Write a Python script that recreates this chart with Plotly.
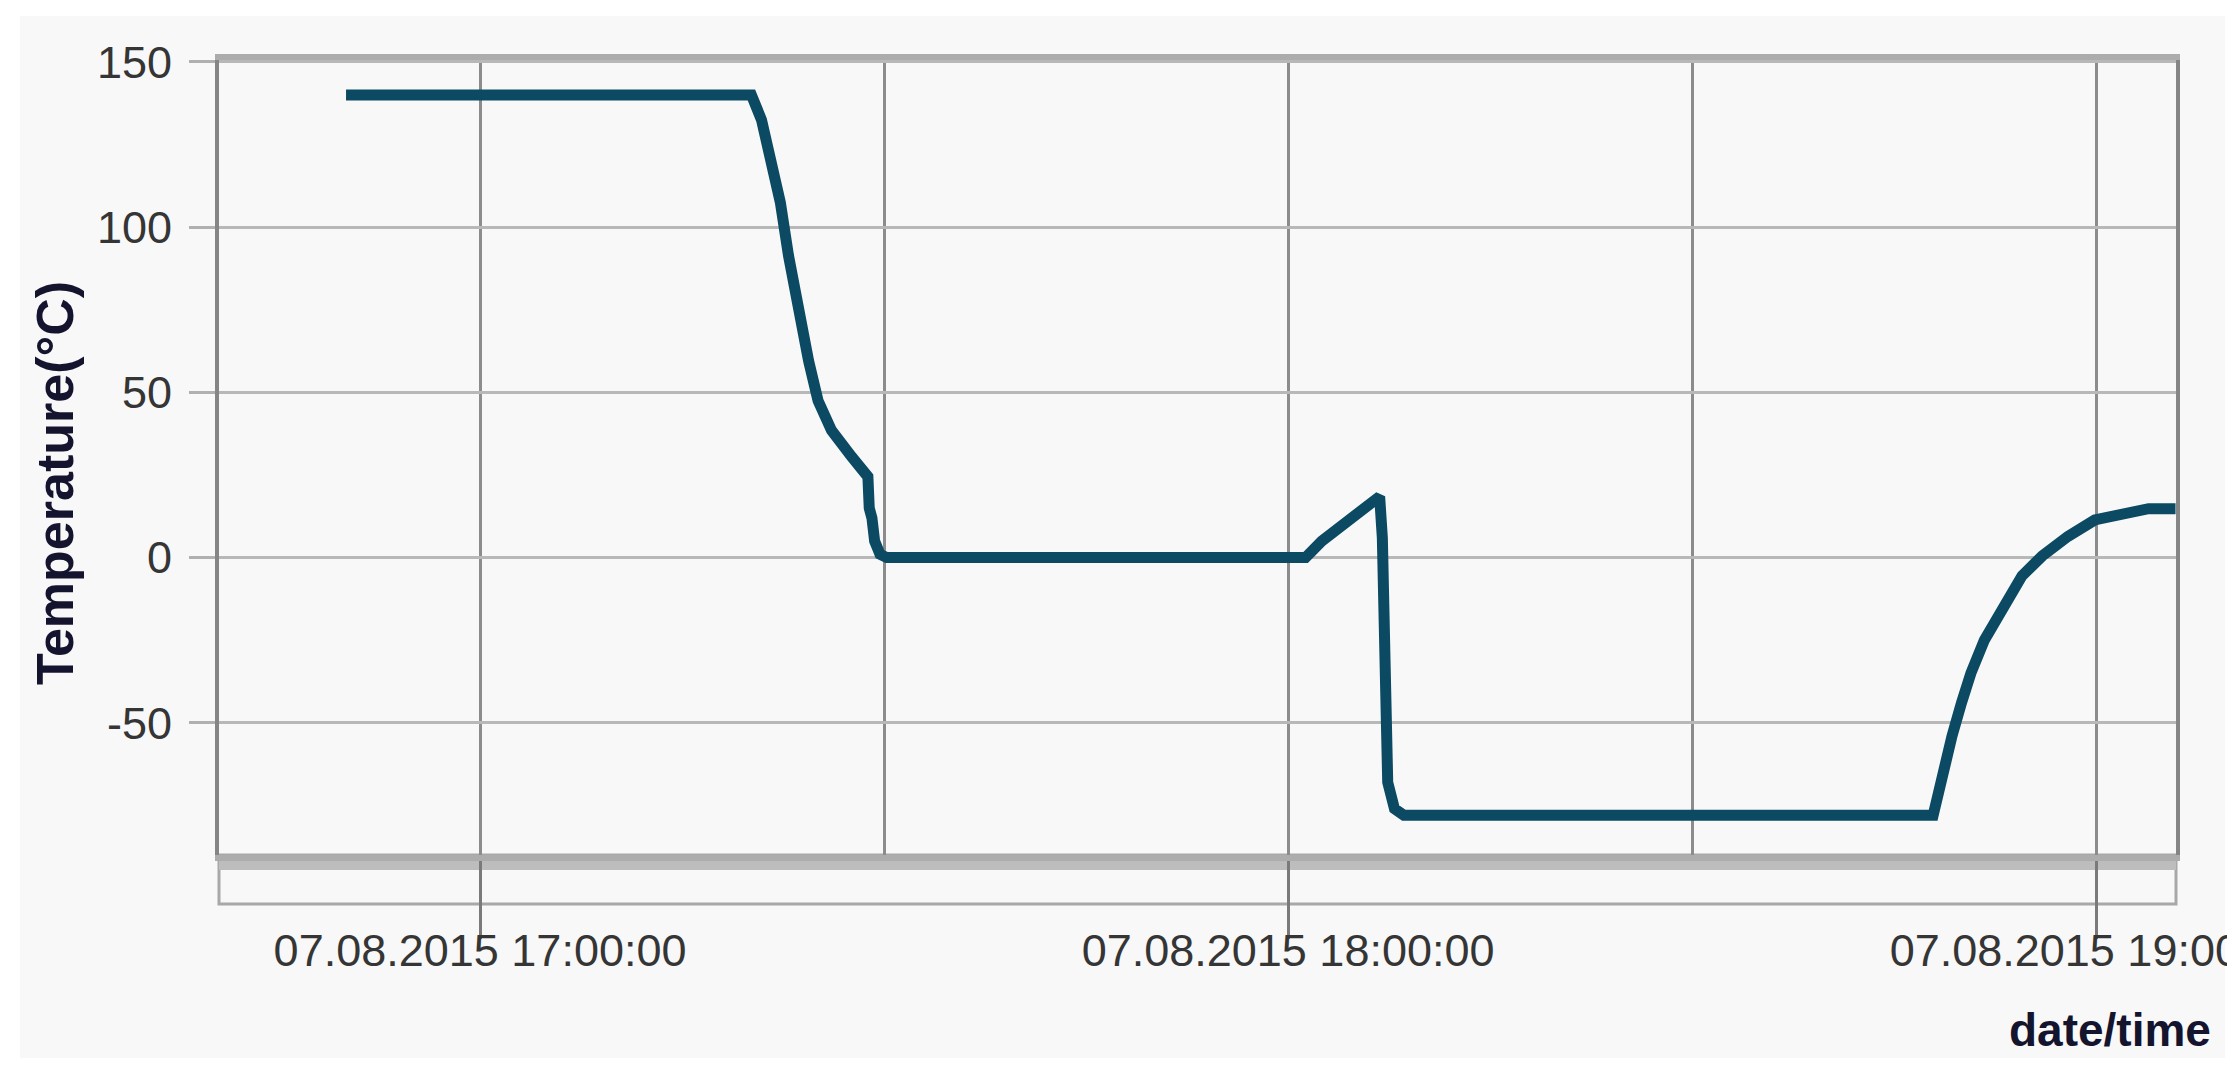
import plotly.graph_objects as go
import pandas as pd

# temperature log
times = [
    "2015-08-07 16:50:03", "2015-08-07 17:20:09", "2015-08-07 17:20:54", "2015-08-07 17:21:36",
    "2015-08-07 17:22:18", "2015-08-07 17:22:54", "2015-08-07 17:23:36", "2015-08-07 17:24:24",
    "2015-08-07 17:25:06", "2015-08-07 17:26:06", "2015-08-07 17:27:36", "2015-08-07 17:28:36",
    "2015-08-07 17:28:48", "2015-08-07 17:28:54", "2015-08-07 17:29:06", "2015-08-07 17:29:18",
    "2015-08-07 17:29:42", "2015-08-07 17:30:12",
    "2015-08-07 18:01:18", "2015-08-07 18:02:30", "2015-08-07 18:04:00", "2015-08-07 18:05:30",
    "2015-08-07 18:06:48", "2015-08-07 18:07:00", "2015-08-07 18:07:12", "2015-08-07 18:07:24",
    "2015-08-07 18:07:54", "2015-08-07 18:08:36",
    "2015-08-07 18:47:54", "2015-08-07 18:48:30", "2015-08-07 18:49:18", "2015-08-07 18:50:00",
    "2015-08-07 18:50:42", "2015-08-07 18:51:42", "2015-08-07 18:53:00", "2015-08-07 18:54:30",
    "2015-08-07 18:56:00", "2015-08-07 18:57:54", "2015-08-07 18:59:54", "2015-08-07 19:02:06",
    "2015-08-07 19:03:54", "2015-08-07 19:05:54",
]
temps = [
    140, 140, 132.5, 120.5,
    107.5, 91.5, 75.5, 59.5,
    47.5, 38.5, 30.5, 25.5,
    24.5, 15, 12, 5,
    1, 0,
    0, 5, 10, 15,
    18.5, 6, -55, -68,
    -76, -78,
    -78, -66, -54, -44,
    -35, -25, -16, -5.5,
    0.5, 6.4, 11.4, 13.4,
    14.8, 14.8,
]

hour_ticks = ["2015-08-07 17:00:00", "2015-08-07 18:00:00", "2015-08-07 19:00:00"]
hour_labels = ["07.08.2015 17:00:00", "07.08.2015 18:00:00", "07.08.2015 19:00:00"]
half_hour_grid = ["2015-08-07 17:30:00", "2015-08-07 18:30:00"]
x_range = ["2015-08-07 16:40:37", "2015-08-07 19:05:56"]

y_ticks = [-50, 0, 50, 100, 150]
y_labels = ["-50", "0", "50", "100", "150"]
y_range = [-90, 150.6]

W, H = 2235, 1074
L, R, T, B = 211, 67, 52, 227
plot_w = W - L - R
plot_h = H - T - B

def px_x(px):
    return (px - L) / plot_w

def px_y(py):
    return (H - B - py) / plot_h

bg = "#f8f8f8"

fig = go.Figure()
fig.add_trace(go.Scatter(
    x=pd.to_datetime(times), y=temps, mode="lines",
    line=dict(color="#0b4a62", width=11),
    showlegend=False,
))

tick_font = dict(family="Liberation Sans, Arial, sans-serif", size=45, color="#353535")

fig.update_xaxes(
    range=x_range, type="date", automargin=False,
    tickmode="array", tickvals=hour_ticks, ticktext=hour_labels,
    ticks="outside", ticklen=78, tickwidth=2.5, tickcolor="#7a7a7a",
    tickfont=tick_font, ticklabeloverflow="allow", ticklabelstandoff=-27,
    showgrid=True, gridcolor="#8c8c8c", gridwidth=2.5,
    minor=dict(tickmode="array", tickvals=half_hour_grid, showgrid=True,
               gridcolor="#8c8c8c", gridwidth=2.5, ticks=""),
    showline=True, mirror=True, linecolor="#acacac", linewidth=6,
    zeroline=False,
)
fig.update_yaxes(
    range=y_range, automargin=False,
    tickmode="array", tickvals=y_ticks, ticktext=y_labels,
    ticks="outside", ticklen=26, tickwidth=3, tickcolor="#b0b0b0",
    tickfont=tick_font, ticklabelstandoff=8,
    showgrid=True, gridcolor="#b8b8b8", gridwidth=3,
    showline=True, mirror=True, linecolor="#858585", linewidth=4,
    zeroline=False,
)

# light grey panel with a thin white frame round it
fig.add_shape(type="rect", xref="paper", yref="paper", layer="below",
              x0=px_x(12), x1=px_x(2217), y0=px_y(1050), y1=px_y(8),
              fillcolor=bg, line_width=0)
# scroll bar strip under the plot
fig.add_shape(type="rect", xref="paper", yref="paper", layer="below",
              x0=0, x1=1, y0=px_y(896), y1=0,
              fillcolor=bg, line=dict(color="#a8a8a8", width=3))
fig.add_shape(type="rect", xref="paper", yref="paper", layer="below",
              x0=0, x1=1, y0=px_y(862), y1=0,
              fillcolor="#bdbdbd", line_width=0)

title_color = "#14142e"
fig.add_annotation(text="<b>Temperature(°C)</b>", xref="paper", yref="paper",
                   x=px_x(47), y=px_y(475), textangle=-90, showarrow=False,
                   xanchor="center", yanchor="middle",
                   font=dict(family="Liberation Sans, Arial, sans-serif", size=52, color=title_color))
fig.add_annotation(text="<b>date/time</b>", xref="paper", yref="paper",
                   x=px_x(2205), y=px_y(1022), showarrow=False,
                   xanchor="right", yanchor="middle",
                   font=dict(family="Liberation Sans, Arial, sans-serif", size=46, color=title_color))

fig.update_layout(
    width=W, height=H,
    margin=dict(l=L, r=R, t=T, b=B),
    paper_bgcolor="white", plot_bgcolor=bg,
)

fig.write_html("out.html")
